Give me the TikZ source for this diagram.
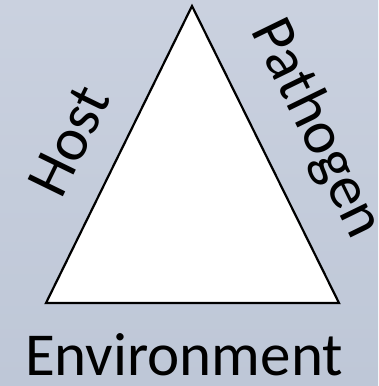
\documentclass[tikz,border=0pt]{standalone}
\usepackage{fontspec}
\setmainfont{Carlito}
\usepackage{xcolor}
\usepackage{tikz}

\definecolor{bgtop}{RGB}{202,209,223}
\definecolor{bgbottom}{RGB}{190,199,215}

\begin{document}
\begin{tikzpicture}[x=1pt,y=-1pt]
    % Here is the background
    \shade[top color=bgtop,bottom color=bgbottom] (0,0) rectangle (378,386);
    \useasboundingbox (0,0) rectangle (378,386);

    % the triangle corners
    \coordinate (apex) at (192,6);
    \coordinate (left) at (46,303);
    \coordinate (right) at (339,303);
    \draw[line width=2.2pt,fill=white,line join=miter] (apex) -- (left) -- (right) -- cycle;

    % using node for text
    \node[rotate=64,font=\fontsize{61}{64}\selectfont,inner sep=0pt] (host) at (69,141) {Host};
    \node[rotate=-64,font=\fontsize{61}{64}\selectfont,inner sep=0pt] (pathogen) at (316,129) {Pathogen};
    \node[anchor=base,font=\fontsize{61}{64}\selectfont,inner sep=0pt] (environment) at (184,375) {Environment};
\end{tikzpicture}
\end{document}
